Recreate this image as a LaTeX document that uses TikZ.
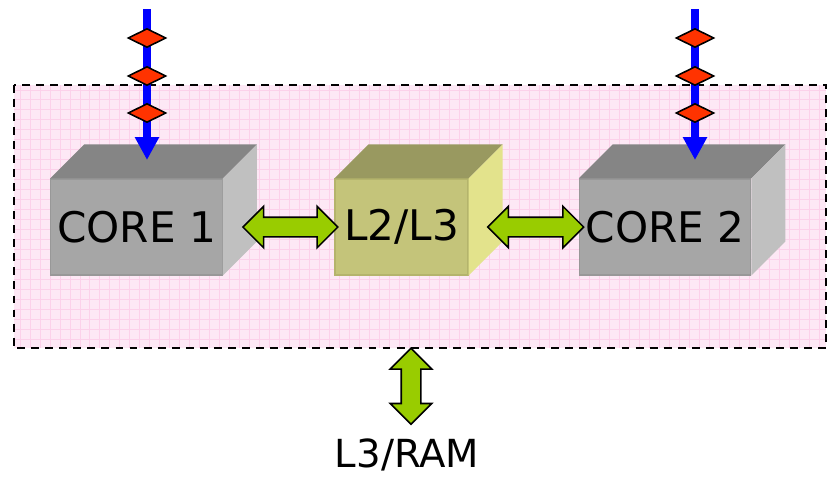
\documentclass[tikz,border=0pt]{standalone}
\usepackage{fontspec}
\setmainfont{DejaVu Sans}
\usepackage{tikz}
\usetikzlibrary{arrows.meta,calc,positioning,shapes.arrows,shapes.geometric}
\definecolor{coreFront}{HTML}{A6A6A6}
\definecolor{coreTop}{HTML}{858585}
\definecolor{coreSide}{HTML}{C0C0C0}
\definecolor{coreEdge}{HTML}{989898}
\definecolor{cacheFront}{HTML}{C4C47A}
\definecolor{cacheTop}{HTML}{999960}
\definecolor{cacheSide}{HTML}{E3E38C}
\definecolor{cacheEdge}{HTML}{B4B46C}
\definecolor{linkGreen}{HTML}{99CC00}
\definecolor{packetRed}{HTML}{FF3300}

\begin{document}
\begin{tikzpicture}[
  x=0.02cm,y=-0.02cm,
  chip/.style={fill=magenta!9,minimum width=16.24cm,minimum height=5.26cm,inner sep=0pt},
  chipedge/.style={draw,line width=1.1pt,dash pattern=on 4.5pt off 3.5pt},
  gridline/.style={draw=magenta!18,line width=0.55pt},
  front/.style={minimum height=1.92cm,inner sep=0pt,line width=0.6pt,
                font=\fontsize{24}{28}\selectfont},
  core/.style={front,fill=coreFront,draw=coreEdge,minimum width=3.43cm},
  cache/.style={front,fill=cacheFront,draw=cacheEdge,minimum width=2.66cm},
  link/.style={double arrow,draw,line width=0.9pt,fill=linkGreen,
               inner xsep=0pt,inner ysep=0.18cm,double arrow head extend=0.22cm},
  feed/.style={-{Triangle[length=0.46cm,width=0.46cm]},line width=4.5pt,blue},
  packet/.style={draw,diamond,line width=0.9pt,fill=packetRed,inner sep=0pt,
                 minimum width=0.76cm,minimum height=0.38cm}
]
\useasboundingbox (0,0) rectangle (827,477);

\node[chip] (chip) at (420,216.5) {};
\draw[gridline,step=0.2cm] (chip.south west) grid (chip.north east);
\draw[chipedge] (chip.north west) rectangle (chip.south east);

\node[core] (c1) at (136.5,227) {CORE 1};
\node[cache] (l2) at (401.5,227) {L2/L3};
\node[core] (c2) at (665,227) {CORE 2};
\foreach \cube/\topc/\sidec in {c1/coreTop/coreSide,l2/cacheTop/cacheSide,c2/coreTop/coreSide}{
  \fill[\topc] (\cube.north west) -- ++(34,-34) -- ($(\cube.north east)+(34,-34)$)
    -- (\cube.north east) -- cycle;
  \fill[\sidec] (\cube.north east) -- ++(34,-34) -- ($(\cube.south east)+(34,-34)$)
    -- (\cube.south east) -- cycle;
}

\node[link,minimum height=1.9cm,anchor=west] (link1) at ($(c1.east)+(19,0)$) {};
\node[link,minimum height=1.92cm,anchor=west] (link2) at ($(l2.east)+(18,0)$) {};
\node[link,minimum height=1.52cm,rotate=90] (down) at ($(chip.south)+(-9,38)$) {};
\node[font=\fontsize{22}{26}\selectfont,anchor=base,inner sep=0pt] (ram) at (407,467) {L3/RAM};

\coordinate (in1) at (147,9);
\coordinate (hit1) at (147,160);
\coordinate (in2) at (695,9);
\coordinate (hit2) at (695,160);
\draw[feed] (in1) -- (hit1);
\draw[feed] (in2) -- (hit2);
\foreach \px/\n in {147/1,695/2}
  \foreach \py/\k in {38/1,76/2,113/3}
    \node[packet] (p\n\k) at (\px,\py) {};
\end{tikzpicture}
\end{document}
